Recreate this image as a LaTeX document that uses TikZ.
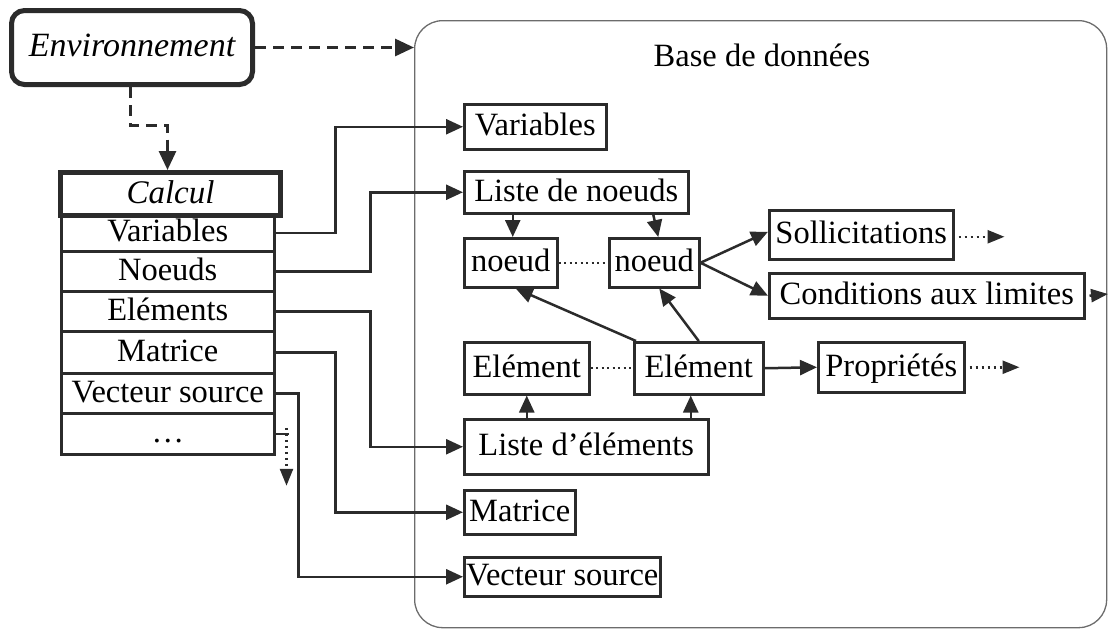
\documentclass[tikz,border=0pt]{standalone}
\usepackage{fontspec}
\setmainfont{Liberation Serif}
\usetikzlibrary{arrows.meta,calc}
\definecolor{ink}{HTML}{2B2B2B}
\tikzset{
  px/.style={x=1pt,y=-1pt},
  bx/.style={draw=ink,line width=2.5pt,inner sep=0pt,anchor=north west,text height=24pt,text depth=6pt,font=\fontsize{32.5}{38}\selectfont},
  thickbx/.style={bx,line width=5pt},
  conn/.style={draw=ink,line width=2.5pt,-{Triangle[length=17pt,width=15pt]}},
  dotconn/.style={draw=ink,line width=2.5pt,dash pattern=on 2.5pt off 3.5pt,-{Triangle[length=17pt,width=13pt]}},
  dotline/.style={draw=ink,line width=2.2pt,dash pattern=on 2.2pt off 3.3pt},
  dashconn/.style={draw=ink,line width=3pt,dash pattern=on 11pt off 7pt,-{Triangle[length=19pt,width=17pt]}},
}
\begin{document}
\begin{tikzpicture}[px]
\useasboundingbox (0,0) rectangle (1109,630);
% database frame
\node[draw=gray!85!black,line width=1.3pt,rounded corners=28pt,anchor=north west,minimum width=692pt,minimum height=607pt,inner sep=0pt] (db) at (414,20) {};
\node[font=\fontsize{32.5}{38}\selectfont] (dbt) at (762,55) {Base de donn\'ees};
% environment
\node[draw=ink,line width=5pt,rounded corners=13pt,anchor=north west,minimum width=241pt,minimum height=74pt,inner sep=0pt,text height=24pt,text depth=7pt,font=\fontsize{34}{40}\selectfont\itshape] (env) at (9,8) {Environnement};
% calcul table
\node[thickbx,minimum width=220pt,minimum height=43pt,font=\fontsize{33}{38}\selectfont\itshape] (calc) at (58,170) {Calcul};
\node[bx,minimum width=213pt,minimum height=37pt] (cv) at (60,213) {Variables};
\node[bx,minimum width=213pt,minimum height=40pt] (cn) at (60,250) {Noeuds};
\node[bx,minimum width=213pt,minimum height=40pt] (ce) at (60,290) {El\'ements};
\node[bx,minimum width=213pt,minimum height=42pt] (cm) at (60,330) {Matrice};
\node[bx,minimum width=213pt,minimum height=40pt] (cs) at (60,372) {Vecteur source};
\node[bx,minimum width=213pt,minimum height=41pt] (cd) at (60,412) {\ldots};
% database boxes
\node[bx,minimum width=142pt,minimum height=45pt] (bv) at (463,103) {Variables};
\node[bx,minimum width=224pt,minimum height=42pt] (ln) at (463,170) {Liste de noeuds};
\node[bx,minimum width=93pt,minimum height=49pt] (n1) at (463,237) {noeud};
\node[bx,minimum width=90pt,minimum height=49pt] (n2) at (608,237) {noeud};
\node[bx,minimum width=184pt,minimum height=49pt] (sol) at (768,209) {Sollicitations};
\node[bx,minimum width=315pt,minimum height=45pt] (cl) at (768,272) {Conditions aux limites};
\node[bx,minimum width=125pt,minimum height=52pt] (e1) at (463,341) {El\'ement};
\node[bx,minimum width=129pt,minimum height=52pt] (e2) at (633,341) {El\'ement};
\node[bx,minimum width=146pt,minimum height=50pt] (pr) at (817,341) {Propri\'et\'es};
\node[bx,minimum width=244pt,minimum height=55pt] (le) at (463,418) {Liste d'\'el\'ements};
\node[bx,minimum width=111pt,minimum height=44pt] (bm) at (463,489) {Matrice};
\node[bx,minimum width=196pt,minimum height=39pt] (bs) at (463,556) {Vecteur source};
% environment connectors
\draw[dashconn] (env.east) -- (env.east -| db.west);
\draw[dashconn] ([xshift=-2pt]env.south) -- ++(0,38) -| ([xshift=-3pt]calc.north);
% calcul connectors
\draw[conn] (cv.east) -- ++(60,0) |- (bv.west);
\draw[conn] (cn.east) -- ++(95,0) |- (ln.west);
\draw[conn] (ce.east) -- ++(95,0) |- (le.west);
\draw[conn] (cm.east) -- ++(60,0) |- (bm.west);
\draw[conn] (cs.east) -- ++(23,0) |- (bs.west);
\draw[draw=ink,line width=2.5pt] (cd.east) -- ++(13,0) coordinate (cdx);
\draw[dotconn] ([xshift=-2pt,yshift=6pt]cdx) -- ++(0,58);
% database connectors
\draw[conn] ([xshift=2pt]n1.north |- ln.south) -- ([xshift=2pt]n1.north);
\draw[conn] ([xshift=-1pt]n2.north |- ln.south) -- ([xshift=4pt]n2.north);
\draw[dotline] (n1.east) -- (n2.west);
\draw[dotline] (e1.east) -- (e2.west);
\draw[conn] (n2.east) -- ([yshift=3pt]sol.west);
\draw[conn] (n2.east) -- (cl.west);
\draw[conn] ([xshift=3pt]e2.north west) -- ([xshift=5pt]n1.south);
\draw[conn] (e2.north) -- ([xshift=5pt]n2.south);
\draw[conn] (e2.east) -- (pr.west);
\draw[conn] (e1.south |- le.north) -- (e1.south);
\draw[conn] ([xshift=-8pt]e2.south |- le.north) -- ([xshift=-8pt]e2.south);
\draw[dotconn] ([xshift=4pt,yshift=-2pt]sol.east) -- ++(46,0);
\draw[dotconn] ([xshift=4pt]cl.east) -- (1108,294);
\draw[dotconn] ([xshift=4pt]pr.east) -- ++(50,0);
\end{tikzpicture}
\end{document}
